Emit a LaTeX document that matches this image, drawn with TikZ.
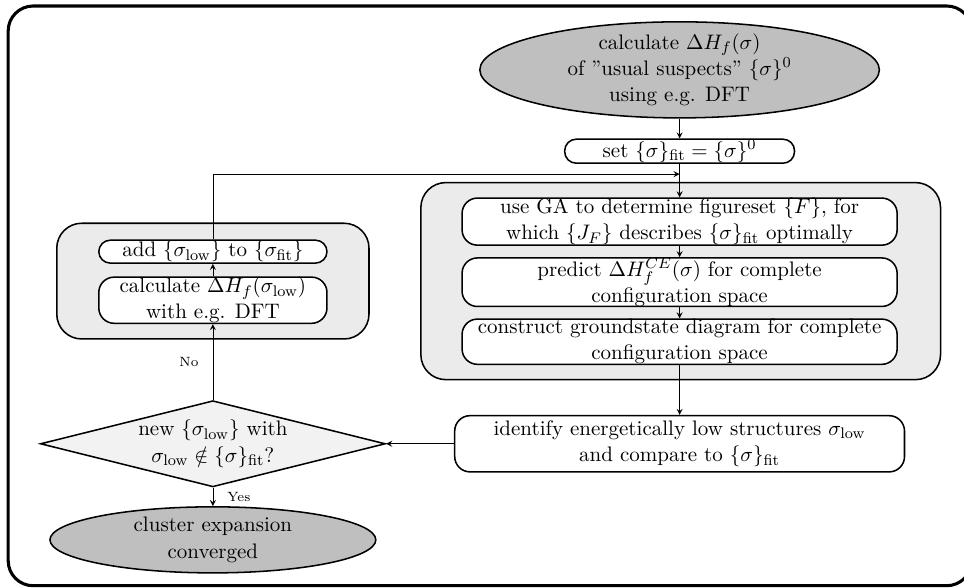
\documentclass[tikz,border=0pt]{standalone}
\usetikzlibrary{shapes.geometric}
\begin{document}
\begin{tikzpicture}[>=stealth,font=\fontsize{10.95}{13.6}\selectfont,
  term/.style={ellipse,draw,thick,fill=gray!50,inner sep=-3pt,align=center},
  pill/.style={draw,thick,fill=white,rounded corners=8pt,inner xsep=2pt,inner ysep=0pt,align=center,minimum width=7.97cm,minimum height=0.82cm},
  panel/.style={draw,thick,fill=gray!16,rounded corners=13pt},
  ask/.style={diamond,draw,thick,fill=gray!10,inner sep=-6pt,aspect=4,align=center},
  tag/.style={font=\scriptsize}]
\useasboundingbox (0,0) rectangle (17.66,10.77);
\draw[line width=1.6pt,rounded corners=13pt](0.15,0.04) rectangle (17.8,10.66);
\node[panel,minimum width=9.52cm,minimum height=3.61cm] (rpanel) at (12.47,5.62) {};
\node[panel,minimum width=5.72cm,minimum height=2.12cm] (lpanel) at (3.9,5.62) {};
\node[term,minimum width=7.32cm,minimum height=1.76cm] (start) at (12.45,9.49) {calculate $\Delta H_f(\sigma)$\\of ''usual suspects'' $\{\sigma\}^0$\\using e.g. DFT};
\node[pill,minimum width=4.21cm,minimum height=0.44cm,rounded corners=6pt] (set) at (12.45,8.0) {set $\{\sigma\}_{\mathrm{fit}}=\{\sigma\}^0$};
\node[pill] (ga) at (12.45,6.71) {use GA to determine figureset $\{F\}$, for\\which $\{J_F\}$ describes $\{\sigma\}_{\mathrm{fit}}$ optimally};
\node[pill] (predict) at (12.45,5.6) {predict $\Delta H_f^{CE}(\sigma)$ for complete\\configuration space};
\node[pill] (construct) at (12.45,4.51) {construct groundstate diagram for complete\\configuration space};
\node[pill,minimum width=8.24cm,minimum height=1.03cm] (identify) at (12.45,2.64) {identify energetically low structures $\sigma_{\mathrm{low}}$\\and compare to $\{\sigma\}_{\mathrm{fit}}$};
\node[ask,minimum width=6.32cm,minimum height=1.58cm] (check) at (3.9,2.64) {new $\{\sigma_{\mathrm{low}}\}$ with\\$\sigma_{\mathrm{low}}\notin\{\sigma\}_{\mathrm{fit}}$?};
\node[term,minimum width=5.97cm,minimum height=1.21cm] (stop) at (3.9,0.88) {cluster expansion\\converged};
\node[pill,minimum width=4.18cm,minimum height=0.82cm] (calc) at (3.9,5.27) {calculate $\Delta H_f(\sigma_{\mathrm{low}})$\\with e.g. DFT};
\node[pill,minimum width=4.18cm,minimum height=0.42cm,rounded corners=6pt] (add) at (3.9,6.16) {add $\{\sigma_{\mathrm{low}}\}$ to $\{\sigma_{\mathrm{fit}}\}$};
\coordinate (join) at (12.45,7.58);
\draw[->](start)--(set);
\draw[->](set)--(ga);
\draw[->](ga)--(predict);
\draw[->](predict)--(construct);
\draw[->](construct)--(identify);
\draw[->](identify)--(check);
\draw[->](check)--node[tag,right=4pt]{Yes}(stop);
\draw[->](check)--node[tag,left=4pt]{No}(calc);
\draw[->](calc)--(add);
\draw[->](add)|-(join);
\end{tikzpicture}
\end{document}
